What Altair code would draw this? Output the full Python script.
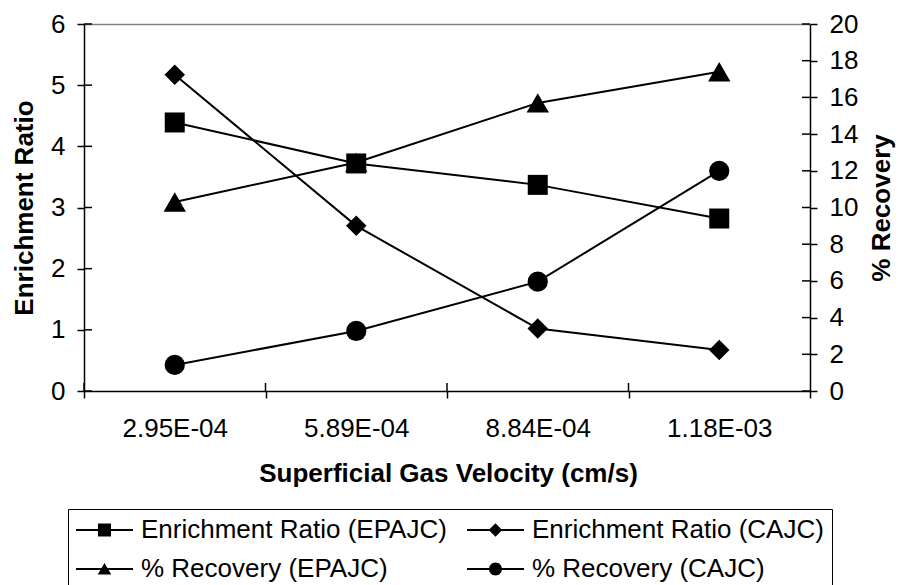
import altair as alt
import pandas as pd

# ---------------- data ----------------
categories = ["2.95E-04", "5.89E-04", "8.84E-04", "1.18E-03"]
series_names = [
    "Enrichment Ratio (EPAJC)",
    "Enrichment Ratio (CAJC)",
    "% Recovery (EPAJC)",
    "% Recovery (CAJC)",
]
er_epajc = [4.39, 3.72, 3.37, 2.82]
er_cajc = [5.17, 2.70, 1.02, 0.67]
rec_epajc = [10.3, 12.45, 15.7, 17.4]
rec_cajc = [1.42, 3.27, 5.96, 12.0]
left_ticks = [0, 1, 2, 3, 4, 5, 6]
right_ticks = [0, 2, 4, 6, 8, 10, 12, 14, 16, 18, 20]

FONT = "Liberation Sans"
W, H = 726, 367

rows = []
for name, vals in zip(series_names, [er_epajc, er_cajc, rec_epajc, rec_cajc]):
    for c, v in zip(categories, vals):
        rows.append({"cat": c, "value": v, "series": name})
df = pd.DataFrame(rows)
df_left_ticks = pd.DataFrame({"value": left_ticks})
df_right_ticks = pd.DataFrame({"value": right_ticks})
df_cats = pd.DataFrame({"cat": categories})

x_scale = alt.Scale(type="band", domain=categories, paddingInner=0, paddingOuter=0)
x_axis = alt.Axis(
    title="Superficial Gas Velocity (cm/s)", tickBand="extent", labelAngle=0,
    tickSize=7, labelPadding=17, labelFontSize=26, labelFont=FONT, labelColor="black",
    titleFont=FONT, titleFontSize=26, titleFontWeight="bold", titleColor="black",
    titleX=364, titleY=90, titleBaseline="alphabetic", titleAlign="center",
    domainColor="black", domainWidth=1.5, tickColor="black", tickWidth=1.5, grid=False,
)


def xenc(bp):
    return alt.X("cat:N", scale=x_scale, axis=x_axis, bandPosition=bp)


left_axis = alt.Axis(
    title="Enrichment Ratio", orient="left", values=left_ticks, tickSize=7,
    labelPadding=12, labelFontSize=26, labelFont=FONT, labelColor="black",
    titleFont=FONT, titleFontSize=26, titleFontWeight="bold", titleColor="black",
    titleX=-52, titleY=H / 2, titleAngle=270, titleBaseline="alphabetic", titleAlign="center",
    domainColor="black", domainWidth=1.5, tickColor="black", tickWidth=1.5,
    grid=True, gridColor="#808080", gridWidth=1.5,
    gridOpacity={"condition": {"test": "datum.value === 6", "value": 1}, "value": 0},
)
right_axis = alt.Axis(
    title="% Recovery", orient="right", values=right_ticks, tickSize=7,
    labelPadding=12, labelFontSize=26, labelFont=FONT, labelColor="black",
    titleFont=FONT, titleFontSize=26, titleFontWeight="bold", titleColor="black",
    titleX=79, titleY=H / 2, titleAngle=270, titleBaseline="alphabetic", titleAlign="center",
    domainColor="black", domainWidth=1.5, tickColor="black", tickWidth=1.5, grid=False,
)
yl = alt.Y("value:Q", scale=alt.Scale(domain=[0, 6]), axis=left_axis)
yr = alt.Y("value:Q", scale=alt.Scale(domain=[0, 20]), axis=right_axis)


def series_layer(name, shape, size, yenc):
    return (
        alt.Chart(df)
        .transform_filter(alt.datum.series == name)
        .mark_line(
            color="black", strokeWidth=2,
            point=alt.OverlayMarkDef(shape=shape, filled=True, size=size,
                                     color="black", opacity=1),
        )
        .encode(x=xenc(0.5), y=yenc)
    )


left_inner = alt.Chart(df_left_ticks).mark_rule(color="black", strokeWidth=1.5).encode(
    y=yl, x=alt.value(0), x2=alt.value(8)
)
right_inner = alt.Chart(df_right_ticks).mark_rule(color="black", strokeWidth=1.5).encode(
    y=yr, x=alt.value(W - 8), x2=alt.value(W)
)
x_inner = alt.Chart(df_cats).mark_rule(color="black", strokeWidth=1.5).encode(
    x=xenc(0), y=alt.value(H - 8), y2=alt.value(H)
)

left = alt.layer(
    series_layer(series_names[0], "square", 400, yl),
    series_layer(series_names[1], "diamond", 420, yl),
    left_inner,
    x_inner,
)
right = alt.layer(
    series_layer(series_names[2], "triangle-up", 500, yr),
    series_layer(series_names[3], "circle", 410, yr),
    right_inner,
)

# legend symbols: unit = 13 px (symbolSize 676); symbol drawn from -1 to 3.385 units
bar = "M-1,-0.075H3.385V0.075H-1Z"
legend_paths = {
    series_names[0]: bar + "M0.692,-0.5H1.692V0.5H0.692Z",
    series_names[1]: bar + "M1.192,-0.52L1.712,0L1.192,0.52L0.672,0Z",
    series_names[2]: bar + "M1.192,-0.46L1.712,0.42L0.672,0.42Z",
    series_names[3]: bar + "M0.692,0A0.5,0.5,0,1,1,1.692,0A0.5,0.5,0,1,1,0.692,0Z",
}
legend_order = [series_names[0], series_names[2], series_names[1], series_names[3]]

legend_layer = (
    alt.Chart(pd.DataFrame({"series": series_names}))
    .transform_filter("false")
    .mark_point(filled=True, color="black", opacity=1)
    .encode(
        shape=alt.Shape(
            "series:N",
            scale=alt.Scale(domain=legend_order, range=[legend_paths[s] for s in legend_order]),
            legend=alt.Legend(
                title=None, orient="none", legendX=-16, legendY=485, columns=2,
                columnPadding=20, rowPadding=13, symbolSize=676, symbolStrokeWidth=0,
                symbolFillColor="black", symbolOpacity=1, labelFont=FONT, labelFontSize=26,
                labelColor="black", labelOffset=39, labelLimit=0,
                strokeColor="black", fillColor="white", padding=8,
            ),
        )
    )
)

chart = (
    alt.layer(left, right, legend_layer)
    .resolve_scale(y="independent")
    .properties(
        width=W, height=H,
        autosize=alt.AutoSizeParams(type="none"),
        padding={"left": 84, "top": 24, "right": 91, "bottom": 194},
        background="white",
    )
    .configure_view(strokeWidth=0)
)

chart.save("out.html", embed_options={"renderer": "svg", "actions": False})
